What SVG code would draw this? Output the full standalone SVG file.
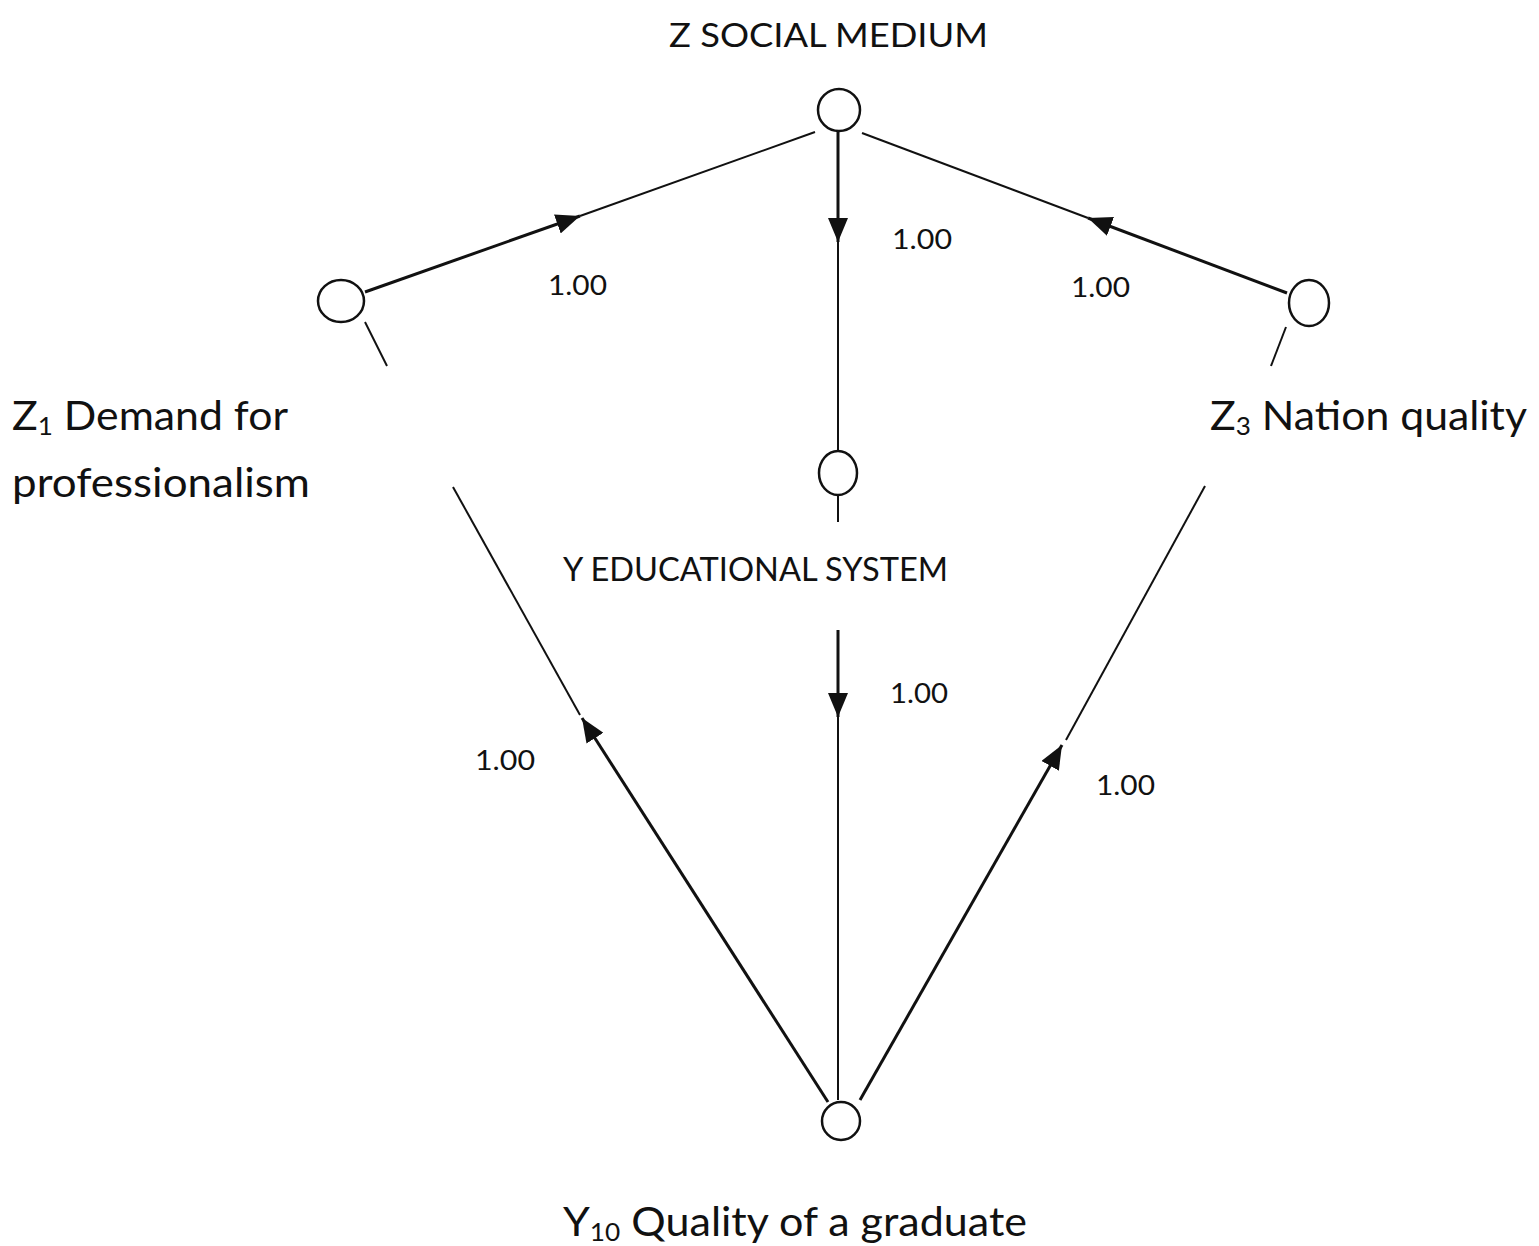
<svg xmlns="http://www.w3.org/2000/svg" width="1539" height="1246" viewBox="0 0 1539 1246">
  <style>
    .node { fill: #ffffff; stroke: #111111; stroke-width: 2.5; }
    .thin { stroke: #111111; stroke-width: 2; fill: none; }
    .thick { stroke: #111111; stroke-width: 3; fill: none; }
    .lbl { font-family: Lato, "Open Sans", "Liberation Sans", sans-serif; fill: #111111; }
    .big { font-size: 41px; }
    .caps { font-size: 32px; }
    .num { font-size: 26px; }
  </style>
  <defs>
    <marker id="arrow" viewBox="0 0 24 20" refX="24" refY="10" markerWidth="24" markerHeight="20" markerUnits="userSpaceOnUse" orient="auto">
      <path d="M0,0 L24,10 L0,20 z" fill="#111111"/>
    </marker>
  </defs>

  <rect width="1539" height="1246" fill="#ffffff"/>

  <!-- connectors -->
  <g id="connectors">
    <!-- Z1 -> Z -->
    <line class="thick" x1="365" y1="292" x2="580" y2="216" marker-end="url(#arrow)"/>
    <line class="thin" x1="580" y1="216" x2="815" y2="132"/>
    <!-- Z -> Y -->
    <line class="thick" x1="838" y1="132" x2="838" y2="242" marker-end="url(#arrow)"/>
    <line class="thin" x1="838" y1="242" x2="838" y2="451"/>
    <!-- Z3 -> Z -->
    <line class="thick" x1="1287" y1="293" x2="1088" y2="218" marker-end="url(#arrow)"/>
    <line class="thin" x1="1088" y1="218" x2="862" y2="133"/>
    <!-- Y -> Y10 -->
    <line class="thin" x1="838" y1="495" x2="838" y2="522"/>
    <line class="thick" x1="838" y1="630" x2="838" y2="717" marker-end="url(#arrow)"/>
    <line class="thin" x1="838" y1="717" x2="838" y2="1100"/>
    <!-- Y10 -> Z1 -->
    <line class="thin" x1="365" y1="322" x2="387" y2="366"/>
    <line class="thin" x1="453" y1="487" x2="580" y2="715"/>
    <line class="thick" x1="828" y1="1102" x2="582" y2="718" marker-end="url(#arrow)"/>
    <!-- Y10 -> Z3 -->
    <line class="thin" x1="1286" y1="327" x2="1271" y2="366"/>
    <line class="thin" x1="1205" y1="486" x2="1066" y2="740"/>
    <line class="thick" x1="860" y1="1100" x2="1062" y2="745" marker-end="url(#arrow)"/>
  </g>

  <!-- connector weights -->
  <g id="weights">
    <text class="lbl num" x="548" y="295" textLength="59" lengthAdjust="spacingAndGlyphs">1.00</text>
    <text class="lbl num" x="892" y="249" textLength="60" lengthAdjust="spacingAndGlyphs">1.00</text>
    <text class="lbl num" x="1071" y="297" textLength="59" lengthAdjust="spacingAndGlyphs">1.00</text>
    <text class="lbl num" x="475" y="770" textLength="60" lengthAdjust="spacingAndGlyphs">1.00</text>
    <text class="lbl num" x="890" y="703" textLength="58" lengthAdjust="spacingAndGlyphs">1.00</text>
    <text class="lbl num" x="1096" y="795" textLength="59" lengthAdjust="spacingAndGlyphs">1.00</text>
  </g>

  <!-- Z: social medium -->
  <g id="node-z">
    <ellipse class="node" cx="839" cy="110" rx="21" ry="21"/>
    <text class="lbl caps" x="669" y="47" textLength="319" lengthAdjust="spacingAndGlyphs">Z SOCIAL MEDIUM</text>
  </g>

  <!-- Z1: demand for professionalism -->
  <g id="node-z1">
    <ellipse class="node" cx="341" cy="301" rx="23" ry="21"/>
    <text class="lbl big" x="12" y="430" textLength="276" lengthAdjust="spacingAndGlyphs">Z<tspan font-size="25" dy="5">1</tspan><tspan dy="-5"> Demand for</tspan></text>
    <text class="lbl big" x="12" y="497" textLength="298" lengthAdjust="spacingAndGlyphs">professionalism</text>
  </g>

  <!-- Z3: nation quality -->
  <g id="node-z3">
    <ellipse class="node" cx="1309" cy="303" rx="20" ry="23"/>
    <text class="lbl big" x="1210" y="430" textLength="317" lengthAdjust="spacingAndGlyphs">Z<tspan font-size="25" dy="5">3</tspan><tspan dy="-5"> Nation quality</tspan></text>
  </g>

  <!-- Y: educational system -->
  <g id="node-y">
    <ellipse class="node" cx="838" cy="473" rx="19" ry="22"/>
    <text class="lbl caps" x="563" y="581" textLength="385" lengthAdjust="spacingAndGlyphs">Y EDUCATIONAL SYSTEM</text>
  </g>

  <!-- Y10: quality of a graduate -->
  <g id="node-y10">
    <ellipse class="node" cx="841" cy="1121" rx="19" ry="19"/>
    <text class="lbl big" x="563" y="1236" textLength="464" lengthAdjust="spacingAndGlyphs">Y<tspan font-size="25" dy="5">10</tspan><tspan dy="-5"> Quality of a graduate</tspan></text>
  </g>
</svg>
